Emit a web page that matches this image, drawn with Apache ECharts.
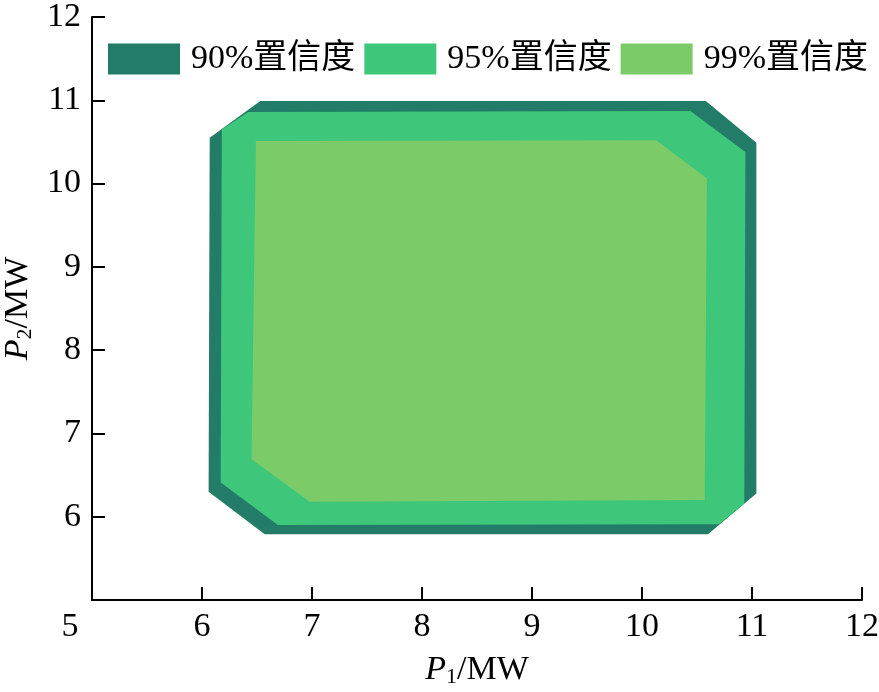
<!DOCTYPE html>
<html>
<head>
<meta charset="utf-8">
<script src="https://cdn.jsdelivr.net/npm/echarts@6/dist/echarts.min.js"></script>
<style>
html,body{margin:0;padding:0;background:#fff;}
#chart{width:879px;height:692px;}
</style>
</head>
<body>
<div id="chart"></div>
<script>
// Confidence region polygons (P1, P2 in MW)
const seriesNames = ['90%置信度', '95%置信度', '99%置信度'];
const seriesColors = ['#227C68', '#3EC77A', '#7BCB69'];

const p1_90 = [6.53, 10.58, 11.04, 11.04, 10.60, 6.57, 6.06, 6.07];
const p2_90 = [10.99, 10.99, 10.49, 6.28, 5.79, 5.79, 6.30, 10.55];

const p1_95 = [6.42, 10.44, 10.94, 10.93, 10.70, 6.69, 6.17, 6.18];
const p2_95 = [10.86, 10.87, 10.38, 6.16, 5.91, 5.90, 6.41, 10.65];

const p1_99 = [6.49, 10.13, 10.59, 10.57, 6.98, 6.45];
const p2_99 = [10.51, 10.52, 10.06, 6.20, 6.18, 6.69];

const xTicks = [5, 6, 7, 8, 9, 10, 11, 12];
const yTicks = [5, 6, 7, 8, 9, 10, 11, 12];

const regions = [
  [p1_90, p2_90],
  [p1_95, p2_95],
  [p1_99, p2_99]
];

const serif = '"Liberation Serif", "Times New Roman", "Noto Sans CJK SC", serif';

function makeSeries(i) {
  const xs = regions[i][0], ys = regions[i][1];
  const data = xs.map((x, k) => [x, ys[k]]);
  return {
    name: seriesNames[i],
    type: 'custom',
    coordinateSystem: 'cartesian2d',
    itemStyle: { color: seriesColors[i] },
    encode: { x: 0, y: 1 },
    data: data,
    z: 2 + i,
    renderItem: function (params, api) {
      if (params.dataIndex !== 0) return null;
      const pts = data.map(p => api.coord(p));
      return {
        type: 'polygon',
        shape: { points: pts },
        style: { fill: seriesColors[i], stroke: null }
      };
    }
  };
}

const chart = echarts.init(document.getElementById('chart'), null, { renderer: 'canvas' });
chart.setOption({
  animation: false,
  backgroundColor: '#fff',
  grid: { left: 92, right: 17, top: 17, bottom: 92, containLabel: false, outerBoundsMode: 'none' },
  legend: {
    data: seriesNames,
    left: 108,
    top: 42,
    padding: 0,
    icon: 'rect',
    itemWidth: 72,
    itemHeight: 31,
    itemGap: 9,
    textStyle: {
      fontFamily: serif,
      fontSize: 34,
      color: '#000',
      lineHeight: 31,
      padding: [0, 0, 0, 6]
    }
  },
  xAxis: {
    type: 'value',
    min: xTicks[0],
    max: xTicks[xTicks.length - 1],
    interval: 1,
    splitLine: { show: false },
    axisLine: { lineStyle: { color: '#000', width: 2 } },
    axisTick: { inside: true, length: 13, lineStyle: { color: '#000', width: 2 } },
    axisLabel: {
      margin: 10,
      color: '#000',
      fontFamily: serif,
      fontSize: 34,
      formatter: function (v) { return v === 5 ? '{a|5}' : String(v); },
      rich: { a: { fontFamily: serif, fontSize: 34, color: '#000', padding: [0, 44, 0, 0] } }
    },
    name: '{i|P}{s|1}{n|/MW}',
    nameLocation: 'middle',
    nameGap: 52,
    nameTextStyle: {
      rich: {
        i: { fontFamily: serif, fontSize: 34, fontStyle: 'italic', color: '#000' },
        s: { fontFamily: serif, fontSize: 22, color: '#000', verticalAlign: 'bottom', padding: [14, 0, 0, 0] },
        n: { fontFamily: serif, fontSize: 34, color: '#000' }
      }
    }
  },
  yAxis: {
    type: 'value',
    min: yTicks[0],
    max: yTicks[yTicks.length - 1],
    interval: 1,
    splitLine: { show: false },
    axisLine: { lineStyle: { color: '#000', width: 2 } },
    axisTick: { inside: true, length: 13, lineStyle: { color: '#000', width: 2 } },
    axisLabel: {
      margin: 11,
      color: '#000',
      fontFamily: serif,
      fontSize: 34,
      showMinLabel: false
    },
    name: '{i|P}{s|2}{n|/MW}',
    nameLocation: 'middle',
    nameGap: 55,
    nameTextStyle: {
      rich: {
        i: { fontFamily: serif, fontSize: 34, fontStyle: 'italic', color: '#000' },
        s: { fontFamily: serif, fontSize: 22, color: '#000', verticalAlign: 'bottom', padding: [14, 0, 0, 0] },
        n: { fontFamily: serif, fontSize: 34, color: '#000' }
      }
    }
  },
  series: [makeSeries(0), makeSeries(1), makeSeries(2)]
});
</script>
</body>
</html>
